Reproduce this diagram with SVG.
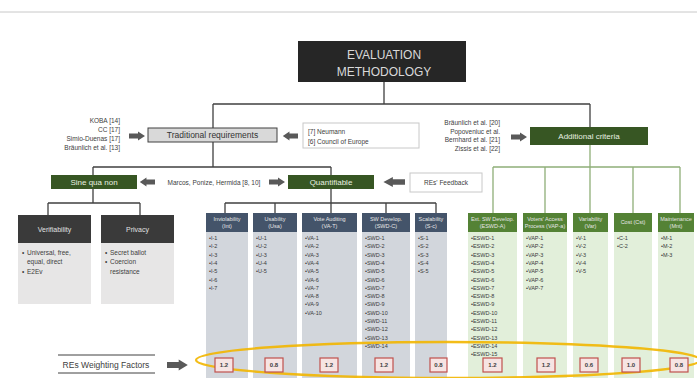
<svg xmlns="http://www.w3.org/2000/svg" width="697" height="378" viewBox="0 0 697 378">
<style>
text{font-family:"Liberation Sans",Arial,sans-serif}
.ln{stroke:#404040;stroke-width:1.3;fill:none}
.gln{stroke:#8fae78;stroke-width:1.3;fill:none}
.ref{font-size:6.5px;fill:#404040}
.grnbox{fill:#375623}
.grntxt{font-size:8px;fill:#e8f0e0;text-anchor:middle}
.gh{fill:#44546a}
.gb{fill:#d2d6dc}
.eh{fill:#548235}
.eb{fill:#e2efda}
.ht{font-size:5.5px;fill:#e6e6e6;text-anchor:middle}
.it{font-size:5.5px;fill:#3a3a3a}
.wb{fill:#f6e4e3;stroke:#c0504d;stroke-width:1.2}
.wt{font-size:6px;font-weight:bold;fill:#404040;text-anchor:middle}
.arr{fill:#595959}
</style>
<defs>
<path id="arr" d="M0,-2.5 H9 V-4.5 L16,0 L9,4.5 V2.5 H0 Z"/>
</defs>
<line x1="0" y1="12" x2="697" y2="12" stroke="#c8c8c8" stroke-width="1"/>

<g id="connectors">
<path class="ln" d="M384,82 V104 M213,104 H590 M213,104 V128 M590,104 V127"/>
<path class="ln" d="M213,142 V167 M93,167 H331 M93,167 V175 M331,167 V175"/>
<path class="ln" d="M93,189 V203 M48,203 H140 M48,203 V215 M140,203 V215"/>
<path class="ln" d="M331,189 V203 M225,203 H436 M225,203 V213 M275,203 V213 M331,203 V213 M386,203 V213 M436,203 V213"/>
<path class="gln" d="M590,145 V167 M493,167 H680 M493,167 V213 M545,167 V213 M590,167 V213 M633,167 V213 M680,167 V213"/>
<use href="#arr" class="arr" transform="translate(129,136)"/>
<use href="#arr" class="arr" transform="translate(298,136) scale(-0.95,1)"/>
<use href="#arr" class="arr" transform="translate(155,182) scale(-0.95,1)"/>
<use href="#arr" class="arr" transform="translate(269,182)"/>
<use href="#arr" class="arr" transform="translate(405,182) scale(-1.35,1.1)"/>
<use href="#arr" class="arr" transform="translate(511,137)"/>
<use href="#arr" class="arr" transform="translate(167,365) scale(1.3,1.2)"/>
</g>

<g id="title">
<rect x="298" y="41" width="168" height="41" fill="#262626"/>
<text x="384" y="59" font-size="12" fill="#d9d9d9" text-anchor="middle">EVALUATION</text>
<text x="384" y="76" font-size="12" fill="#d9d9d9" text-anchor="middle">METHODOLOGY</text>
</g>

<g id="trad-refs">
<text class="ref" text-anchor="end"><tspan x="120" y="123">KOBA [14]</tspan><tspan x="120" y="132">CC [17]</tspan><tspan x="120" y="141">Simio-Duenas [17]</tspan><tspan x="120" y="150">Bräunlich et al. [13]</tspan></text>
</g>

<g id="traditional">
<rect x="148" y="128" width="129" height="14" fill="#d9d9d9" stroke="#404040" stroke-width="1"/>
<text x="212.5" y="138" font-size="8.5" fill="#333" text-anchor="middle">Traditional requirements</text>
</g>

<g id="mid-refs">
<rect x="303" y="123" width="116" height="25" fill="#fff" stroke="#c8c8c8" stroke-width="1"/>
<text class="ref" x="308" y="134">[7] Neumann</text>
<text class="ref" x="308" y="144">[6] Council of Europe</text>
</g>

<g id="add-refs">
<text class="ref" text-anchor="end"><tspan x="500" y="125">Bräunlich et al. [20]</tspan><tspan x="500" y="133.5">Popoveniuc et al.</tspan><tspan x="500" y="142">Bernhard et al. [21]</tspan><tspan x="500" y="150.5">Zissis et al. [22]</tspan></text>
</g>

<g id="additional">
<rect class="grnbox" x="530" y="127" width="118" height="18"/>
<text class="grntxt" x="589" y="139" font-size="8.5">Additional criteria</text>
</g>

<g id="sine">
<rect class="grnbox" x="51" y="175" width="86" height="14"/>
<text class="grntxt" x="94" y="185" font-size="7">Sine qua non</text>
</g>
<text class="ref" x="214" y="184.5" text-anchor="middle">Marcos, Ponize, Hermida [8, 10]</text>
<g id="quantifiable">
<rect class="grnbox" x="288" y="175" width="86" height="14"/>
<text class="grntxt" x="331" y="185" font-size="7">Quantifiable</text>
</g>
<g id="feedback">
<rect x="410" y="173" width="72" height="19" fill="#fff" stroke="#c8c8c8" stroke-width="1"/>
<text class="ref" x="446" y="185" text-anchor="middle">REs' Feedback</text>
</g>

<g id="verifiability">
<rect x="18" y="215" width="73" height="28" fill="#3a3a3a"/>
<rect x="18" y="243" width="73" height="61" fill="#e7e6e6"/>
<text x="54.5" y="232" font-size="7" fill="#e0e0e0" text-anchor="middle">Verifiability</text>
<text font-size="6.5" fill="#404040"><tspan x="22" y="255">•</tspan><tspan x="27" y="255">Universal,   free,</tspan><tspan x="27" y="264">equal, direct</tspan><tspan x="22" y="274">•</tspan><tspan x="27" y="274">E2Ev</tspan></text>
</g>
<g id="privacy">
<rect x="101" y="215" width="73" height="28" fill="#3a3a3a"/>
<rect x="101" y="243" width="73" height="61" fill="#e7e6e6"/>
<text x="137.5" y="232" font-size="7" fill="#e0e0e0" text-anchor="middle">Privacy</text>
<text font-size="6.5" fill="#404040"><tspan x="105" y="255">•</tspan><tspan x="110" y="255">Secret ballot</tspan><tspan x="105" y="264">•</tspan><tspan x="110" y="264">Coercion</tspan><tspan x="110" y="274">resistance</tspan></text>
</g>

<g id="col-int">
<rect class="gh" x="206" y="213" width="42" height="19"/><rect class="gb" x="206" y="232" width="42" height="146"/>
<text class="ht"><tspan x="227" y="220.5">Inviolability</tspan><tspan x="227" y="227.5">(Int)</tspan></text>
<text class="it" x="209" y="240"><tspan x="209" dy="0">•I-1</tspan><tspan x="209" dy="8.3">•I-2</tspan><tspan x="209" dy="8.3">•I-3</tspan><tspan x="209" dy="8.3">•I-4</tspan><tspan x="209" dy="8.3">•I-5</tspan><tspan x="209" dy="8.3">•I-6</tspan><tspan x="209" dy="8.3">•I-7</tspan></text>
</g>
<g id="col-usa">
<rect class="gh" x="253" y="213" width="44" height="19"/><rect class="gb" x="253" y="232" width="44" height="146"/>
<text class="ht"><tspan x="275" y="220.5">Usability</tspan><tspan x="275" y="227.5">(Usa)</tspan></text>
<text class="it" x="256" y="240"><tspan x="256" dy="0">•U-1</tspan><tspan x="256" dy="8.3">•U-2</tspan><tspan x="256" dy="8.3">•U-3</tspan><tspan x="256" dy="8.3">•U-4</tspan><tspan x="256" dy="8.3">•U-5</tspan></text>
</g>
<g id="col-va">
<rect class="gh" x="302" y="213" width="55" height="19"/><rect class="gb" x="302" y="232" width="55" height="146"/>
<text class="ht"><tspan x="329.5" y="220.5">Vote Auditing</tspan><tspan x="329.5" y="227.5">(VA-T)</tspan></text>
<text class="it" x="305" y="240"><tspan x="305" dy="0">•VA-1</tspan><tspan x="305" dy="8.3">•VA-2</tspan><tspan x="305" dy="8.3">•VA-3</tspan><tspan x="305" dy="8.3">•VA-4</tspan><tspan x="305" dy="8.3">•VA-5</tspan><tspan x="305" dy="8.3">•VA-6</tspan><tspan x="305" dy="8.3">•VA-7</tspan><tspan x="305" dy="8.3">•VA-8</tspan><tspan x="305" dy="8.3">•VA-9</tspan><tspan x="305" dy="8.3">•VA-10</tspan></text>
</g>
<g id="col-swd">
<rect class="gh" x="362" y="213" width="48" height="19"/><rect class="gb" x="362" y="232" width="48" height="146"/>
<text class="ht"><tspan x="386" y="220.5">SW Develop.</tspan><tspan x="386" y="227.5">(SWD-C)</tspan></text>
<text class="it" x="365" y="240"><tspan x="365" dy="0">•SWD-1</tspan><tspan x="365" dy="8.3">•SWD-2</tspan><tspan x="365" dy="8.3">•SWD-3</tspan><tspan x="365" dy="8.3">•SWD-4</tspan><tspan x="365" dy="8.3">•SWD-5</tspan><tspan x="365" dy="8.3">•SWD-6</tspan><tspan x="365" dy="8.3">•SWD-7</tspan><tspan x="365" dy="8.3">•SWD-8</tspan><tspan x="365" dy="8.3">•SWD-9</tspan><tspan x="365" dy="8.3">•SWD-10</tspan><tspan x="365" dy="8.3">•SWD-11</tspan><tspan x="365" dy="8.3">•SWD-12</tspan><tspan x="365" dy="8.3">•SWD-13</tspan><tspan x="365" dy="8.3">•SWD-14</tspan></text>
</g>
<g id="col-sc">
<rect class="gh" x="415" y="213" width="32" height="19"/><rect class="gb" x="415" y="232" width="32" height="146"/>
<text class="ht"><tspan x="431" y="220.5">Scalability</tspan><tspan x="431" y="227.5">(S-c)</tspan></text>
<text class="it" x="418" y="240"><tspan x="418" dy="0">•S-1</tspan><tspan x="418" dy="8.3">•S-2</tspan><tspan x="418" dy="8.3">•S-3</tspan><tspan x="418" dy="8.3">•S-4</tspan><tspan x="418" dy="8.3">•S-5</tspan></text>
</g>

<g id="col-eswd">
<rect class="eh" x="468" y="213" width="49" height="19"/><rect class="eb" x="468" y="232" width="49" height="146"/>
<text class="ht"><tspan x="492.5" y="220.5">Ext. SW Develop.</tspan><tspan x="492.5" y="227.5">(ESWD-A)</tspan></text>
<text class="it" x="471" y="240"><tspan x="471" dy="0">•ESWD-1</tspan><tspan x="471" dy="8.3">•ESWD-2</tspan><tspan x="471" dy="8.3">•ESWD-3</tspan><tspan x="471" dy="8.3">•ESWD-4</tspan><tspan x="471" dy="8.3">•ESWD-5</tspan><tspan x="471" dy="8.3">•ESWD-6</tspan><tspan x="471" dy="8.3">•ESWD-7</tspan><tspan x="471" dy="8.3">•ESWD-8</tspan><tspan x="471" dy="8.3">•ESWD-9</tspan><tspan x="471" dy="8.3">•ESWD-10</tspan><tspan x="471" dy="8.3">•ESWD-11</tspan><tspan x="471" dy="8.3">•ESWD-12</tspan><tspan x="471" dy="8.3">•ESWD-13</tspan><tspan x="471" dy="8.3">•ESWD-14</tspan><tspan x="471" dy="8.3">•ESWD-15</tspan></text>
</g>
<g id="col-vap">
<rect class="eh" x="523" y="213" width="44" height="19"/><rect class="eb" x="523" y="232" width="44" height="146"/>
<text class="ht"><tspan x="545" y="220.5">Voters' Access</tspan><tspan x="545" y="227.5">Process (VAP-a)</tspan></text>
<text class="it" x="526" y="240"><tspan x="526" dy="0">•VAP-1</tspan><tspan x="526" dy="8.3">•VAP-2</tspan><tspan x="526" dy="8.3">•VAP-3</tspan><tspan x="526" dy="8.3">•VAP-4</tspan><tspan x="526" dy="8.3">•VAP-5</tspan><tspan x="526" dy="8.3">•VAP-6</tspan><tspan x="526" dy="8.3">•VAP-7</tspan></text>
</g>
<g id="col-var">
<rect class="eh" x="573" y="213" width="35" height="19"/><rect class="eb" x="573" y="232" width="35" height="146"/>
<text class="ht"><tspan x="590.5" y="220.5">Variability</tspan><tspan x="590.5" y="227.5">(Var)</tspan></text>
<text class="it" x="576" y="240"><tspan x="576" dy="0">•V-1</tspan><tspan x="576" dy="8.3">•V-2</tspan><tspan x="576" dy="8.3">•V-3</tspan><tspan x="576" dy="8.3">•V-4</tspan><tspan x="576" dy="8.3">•V-5</tspan></text>
</g>
<g id="col-cost">
<rect class="eh" x="614" y="213" width="38" height="19"/><rect class="eb" x="614" y="232" width="38" height="146"/>
<text class="ht" x="633" y="224">Cost (Cst)</text>
<text class="it" x="617" y="240"><tspan x="617" dy="0">•C-1</tspan><tspan x="617" dy="8.3">•C-2</tspan></text>
</g>
<g id="col-mnt">
<rect class="eh" x="658" y="213" width="36" height="19"/><rect class="eb" x="658" y="232" width="36" height="146"/>
<text class="ht"><tspan x="676" y="220.5">Maintenance</tspan><tspan x="676" y="227.5">(Mnt)</tspan></text>
<text class="it" x="661" y="240"><tspan x="661" dy="0">•M-1</tspan><tspan x="661" dy="8.3">•M-2</tspan><tspan x="661" dy="8.3">•M-3</tspan></text>
</g>

<g id="weights-label">
<line x1="58" y1="355" x2="155" y2="355" stroke="#404040" stroke-width="1"/>
<line x1="58" y1="373" x2="155" y2="373" stroke="#404040" stroke-width="1"/>
<text x="106" y="367.5" font-size="8.5" fill="#404040" text-anchor="middle">REs Weighting Factors</text>
</g>

<ellipse cx="448" cy="360" rx="252" ry="18" fill="none" stroke="#f2b600" stroke-width="2.4" opacity="0.9"/>

<g id="weights">
<rect class="wb" x="215" y="358" width="18" height="14"/><text class="wt" x="224" y="367">1.2</text>
<rect class="wb" x="265" y="358" width="18" height="14"/><text class="wt" x="274" y="367">0.8</text>
<rect class="wb" x="320" y="358" width="18" height="14"/><text class="wt" x="329" y="367">1.2</text>
<rect class="wb" x="375" y="358" width="18" height="14"/><text class="wt" x="384" y="367">1.2</text>
<rect class="wb" x="430" y="358" width="17" height="14"/><text class="wt" x="438.5" y="367">0.8</text>
<rect class="wb" x="483" y="358" width="19" height="14"/><text class="wt" x="492.5" y="367">1.2</text>
<rect class="wb" x="537" y="358" width="18" height="14"/><text class="wt" x="546" y="367">1.2</text>
<rect class="wb" x="580" y="358" width="18" height="14"/><text class="wt" x="589" y="367">0.6</text>
<rect class="wb" x="622" y="358" width="18" height="14"/><text class="wt" x="631" y="367">1.0</text>
<rect class="wb" x="670" y="358" width="18" height="14"/><text class="wt" x="679" y="367">0.8</text>
</g>
</svg>
